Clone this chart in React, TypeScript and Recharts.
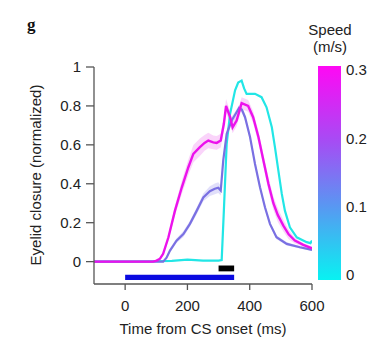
import React from "react";
import { ComposedChart, Line, Area, XAxis, YAxis, ReferenceArea } from "recharts";

// ---- data ----
const xTicks = [0, 200, 400, 600];
const yTicks = [0, 0.2, 0.4, 0.6, 0.8, 1];
const speedTicks = [0, 0.1, 0.2, 0.3];

// speed 0.3 m/s (magenta)
const magentaTime = [-100, 0, 90, 101, 112, 122, 139, 160, 182, 203, 219, 240, 255, 267, 283, 294, 307, 317, 324, 337, 345, 358, 374, 395, 411, 428, 444, 460, 476, 490, 508, 525, 545, 572, 600];
const magentaVal = [0, 0, 0, 0.005, 0.015, 0.04, 0.125, 0.262, 0.382, 0.485, 0.554, 0.588, 0.61, 0.622, 0.613, 0.61, 0.622, 0.708, 0.8, 0.742, 0.69, 0.725, 0.814, 0.8, 0.742, 0.64, 0.52, 0.4, 0.3, 0.24, 0.185, 0.14, 0.108, 0.086, 0.068];
const magentaErr = [0, 0, 0, 0.003, 0.005, 0.01, 0.015, 0.025, 0.035, 0.04, 0.045, 0.045, 0.04, 0.04, 0.035, 0.035, 0.035, 0.035, 0.035, 0.03, 0.03, 0.03, 0.03, 0.03, 0.03, 0.03, 0.03, 0.035, 0.035, 0.035, 0.03, 0.025, 0.015, 0.01, 0.01];

// speed ~0.15 m/s (purple)
const purpleTime = [-100, 0, 100, 122, 133, 144, 165, 187, 208, 230, 251, 272, 288, 299, 307, 315, 326, 342, 355, 366, 375, 385, 401, 417, 433, 449, 465, 486, 519, 561, 600];
const purpleVal = [0, 0, 0, 0, 0.02, 0.057, 0.108, 0.142, 0.194, 0.262, 0.33, 0.362, 0.374, 0.38, 0.365, 0.52, 0.656, 0.725, 0.76, 0.79, 0.78, 0.742, 0.64, 0.502, 0.382, 0.279, 0.194, 0.125, 0.091, 0.074, 0.06];
const purpleErr = [0, 0, 0, 0, 0.005, 0.01, 0.012, 0.015, 0.015, 0.018, 0.02, 0.025, 0.028, 0.028, 0.025, 0.02, 0.02, 0.02, 0.015, 0.015, 0.015, 0.015, 0.015, 0.015, 0.015, 0.012, 0.01, 0.01, 0.008, 0.006, 0.006];

// speed 0 m/s (cyan)
const cyanTime = [-100, 0, 100, 150, 200, 250, 300, 310, 317, 326, 337, 353, 363, 374, 382, 390, 417, 438, 454, 471, 481, 492, 503, 513, 529, 551, 583, 595, 600];
const cyanVal = [0, 0, 0.002, 0.004, 0.01, 0.005, 0.005, 0.008, 0.262, 0.605, 0.76, 0.88, 0.92, 0.93, 0.89, 0.862, 0.862, 0.845, 0.793, 0.69, 0.588, 0.468, 0.348, 0.262, 0.176, 0.125, 0.1, 0.095, 0.108];

// stimulus bars
const usBar = { start: 300, end: 350, low: -0.05, high: -0.02 };
const csBar = { start: 0, end: 350, low: -0.094, high: -0.067 };

// colour bar range (speed, m/s) and its time-axis span beside the plot
const speedRange = { low: -0.00732, high: 0.30585 };
const colorbarSpan = { start: 619.3, end: 693.1 };

// ---- build tables ----
const toLine = (ts: number[], vs: number[]) => ts.map((t, i) => ({ t, v: vs[i] }));
const toBand = (ts: number[], vs: number[], es: number[]) =>
  ts.map((t, i) => ({ t, band: [vs[i] - es[i], vs[i] + es[i]] }));

const magentaData = toLine(magentaTime, magentaVal);
const purpleData = toLine(purpleTime, purpleVal);
const cyanData = toLine(cyanTime, cyanVal);
const magentaBand = toBand(magentaTime, magentaVal, magentaErr);
const purpleBand = toBand(purpleTime, purpleVal, purpleErr);

const FONT = "'Liberation Sans', Arial, Helvetica, sans-serif";
const AXIS = "#555";
const TEXT = "#222";
const MAGENTA = "#ec12ec";
const PURPLE = "#7a70e2";
const CYAN = "#22e6e6";

const fmt = (v: number) => String(Math.round(v * 10) / 10);

export default function App() {
  return (
    <div style={{ position: "absolute", left: 0, top: 0, width: 382, height: 346, background: "#fff", fontFamily: FONT }}>
      <svg width={0} height={0} style={{ position: "absolute" }}>
        <defs>
          <linearGradient id="cbGrad" x1="0" y1="0" x2="0" y2="1">
            <stop offset="0%" stopColor="#ff08f4" />
            <stop offset="35%" stopColor="#a64cf4" />
            <stop offset="65%" stopColor="#5a96f2" />
            <stop offset="100%" stopColor="#08f2f2" />
          </linearGradient>
        </defs>
      </svg>
      <ComposedChart width={382} height={346} margin={{ top: 67, right: 0, bottom: 0, left: 0 }}>
        <XAxis
          type="number"
          dataKey="t"
          domain={[-100, 600]}
          ticks={xTicks}
          interval={0}
          allowDataOverflow
          height={62}
          stroke={AXIS}
          strokeWidth={1.3}
          tickSize={6}
          tickMargin={10}
          tick={{ fill: TEXT, fontSize: 15, fontFamily: FONT }}
          label={{
            content: () => (
              <text x={203} y={334} textAnchor="middle" fill={TEXT} fontSize={15} fontFamily={FONT}>
                Time from CS onset (ms)
              </text>
            ),
          }}
        />
        <YAxis
          type="number"
          domain={[-0.115, 1]}
          ticks={yTicks}
          interval={0}
          allowDataOverflow
          width={94}
          stroke={AXIS}
          strokeWidth={1.3}
          tickSize={8}
          tickMargin={5}
          tickFormatter={fmt}
          tick={{ fill: TEXT, fontSize: 15, fontFamily: FONT }}
          label={{
            content: () => (
              <text
                x={35}
                y={175}
                transform="rotate(-90 35 175)"
                textAnchor="middle"
                dominantBaseline="central"
                fill={TEXT}
                fontSize={15}
                fontFamily={FONT}
              >
                Eyelid closure (normalized)
              </text>
            ),
          }}
        />
        <YAxis
          yAxisId="speed"
          type="number"
          orientation="right"
          domain={[-0.01317, 0.30439]}
          ticks={speedTicks}
          interval={0}
          allowDataOverflow
          width={70}
          axisLine={false}
          tickLine={false}
          tickSize={0}
          tickMargin={34}
          tickFormatter={fmt}
          tick={{ fill: TEXT, fontSize: 15, fontFamily: FONT }}
        />
        <ReferenceArea
          yAxisId="speed"
          x1={colorbarSpan.start}
          x2={colorbarSpan.end}
          y1={speedRange.low}
          y2={speedRange.high}
          fill="url(#cbGrad)"
          fillOpacity={1}
          stroke="none"
          ifOverflow="visible"
        />
        <ReferenceArea x1={usBar.start} x2={usBar.end} y1={usBar.low} y2={usBar.high} fill="#000" fillOpacity={1} stroke="none" ifOverflow="visible" />
        <ReferenceArea x1={csBar.start} x2={csBar.end} y1={csBar.low} y2={csBar.high} fill="#0a0ae0" fillOpacity={1} stroke="none" ifOverflow="visible" />
        <Area data={purpleBand} dataKey="band" type="linear" stroke="none" fill="#9c96f0" fillOpacity={0.3} isAnimationActive={false} activeDot={false} />
        <Area data={magentaBand} dataKey="band" type="linear" stroke="none" fill="#f070f0" fillOpacity={0.3} isAnimationActive={false} activeDot={false} />
        <Line data={cyanData} dataKey="v" type="linear" stroke={CYAN} strokeWidth={2.2} dot={false} activeDot={false} isAnimationActive={false} />
        <Line data={purpleData} dataKey="v" type="linear" stroke={PURPLE} strokeWidth={2.2} dot={false} activeDot={false} isAnimationActive={false} />
        <Line data={magentaData} dataKey="v" type="linear" stroke={MAGENTA} strokeWidth={2.4} dot={false} activeDot={false} isAnimationActive={false} />
      </ComposedChart>

      <svg width={382} height={346} style={{ position: "absolute", left: 0, top: 0, pointerEvents: "none" }}>
        <text x={27} y={29.5} fontFamily="'Liberation Serif', 'Times New Roman', serif" fontWeight="bold" fontSize={17} fill="#111">
          g
        </text>
        <text x={330} y={35} textAnchor="middle" fontFamily={FONT} fontSize={15} fill={TEXT}>
          Speed
        </text>
        <text x={330} y={52} textAnchor="middle" fontFamily={FONT} fontSize={15} fill={TEXT}>
          (m/s)
        </text>
      </svg>
    </div>
  );
}
